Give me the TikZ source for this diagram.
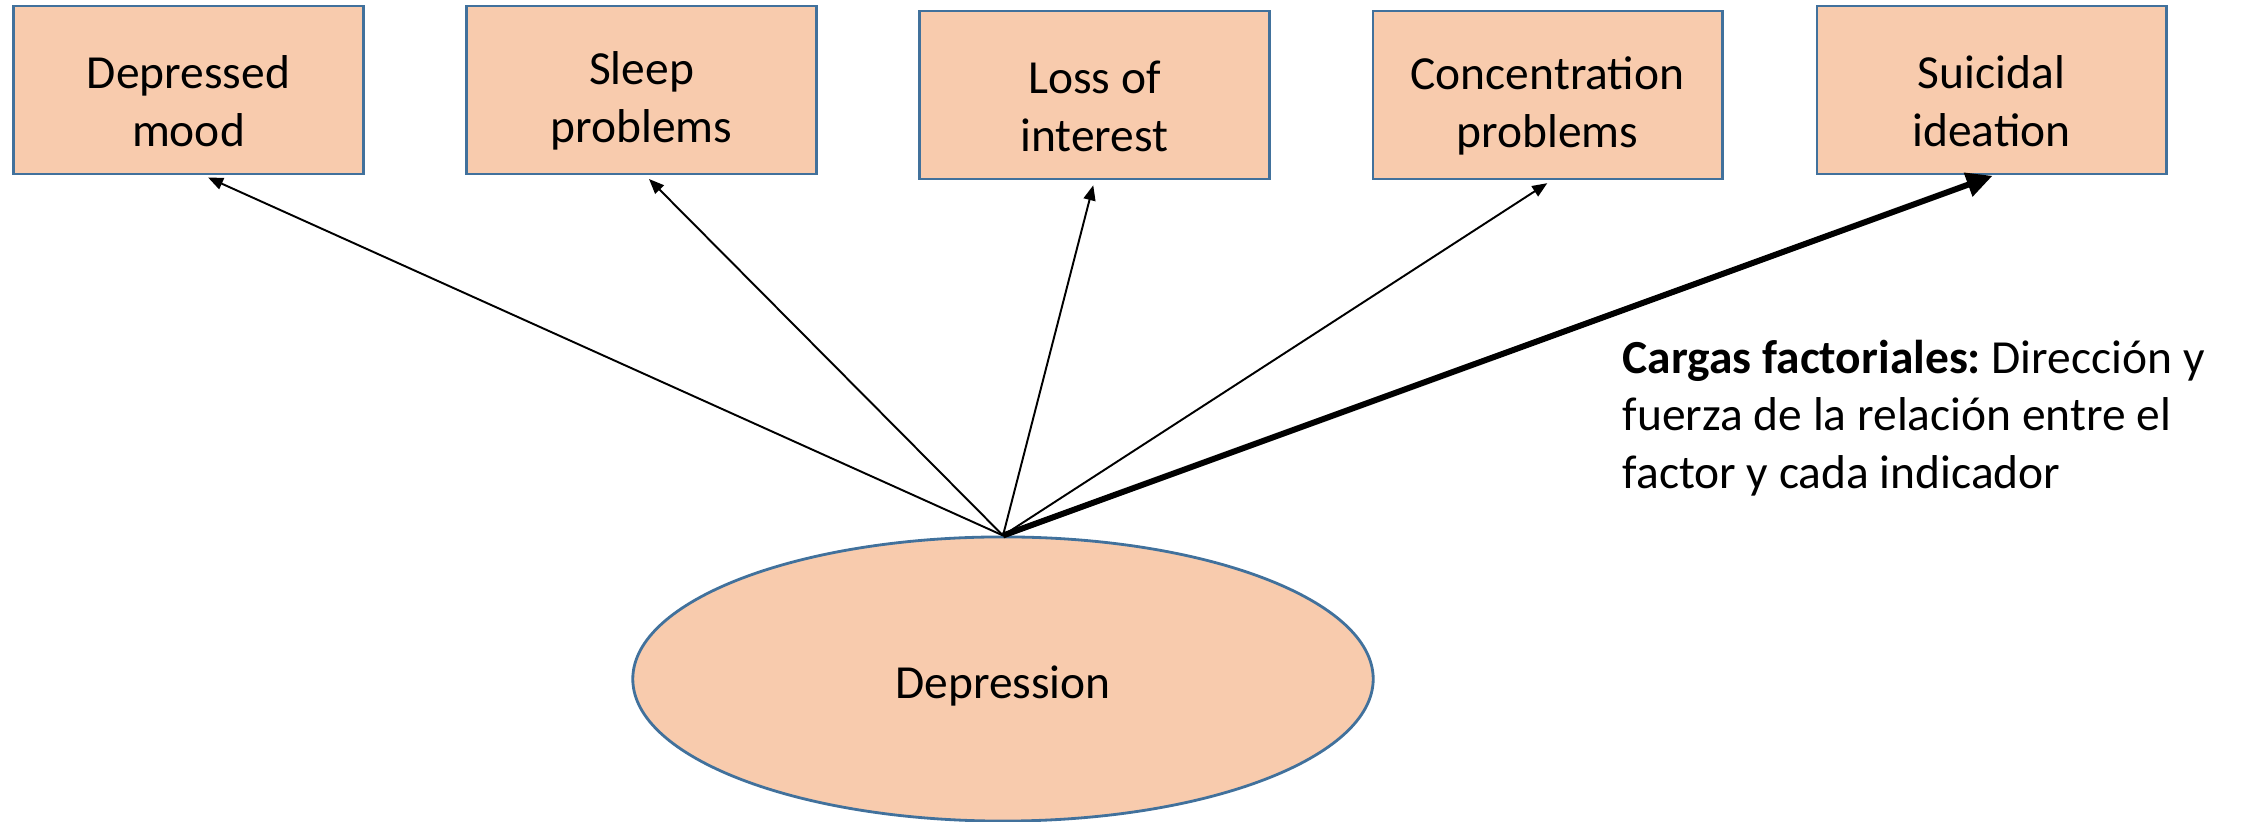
\documentclass[tikz,border=0pt]{standalone}
\usepackage{fontspec}
\usepackage{xcolor}
\usepackage{tikz}
\usetikzlibrary{arrows.meta, shapes.geometric}
\setmainfont{Carlito}
\definecolor{boxfill}{HTML}{F8CBAD}
\definecolor{boxline}{HTML}{41719C}
\lineskiplimit=-10pt
\newcommand{\lift}{\rule{0pt}{0.55cm}}
\tikzset{
	item/.style={rectangle, minimum width=3.49cm, minimum height=1.68cm, fill=boxfill, draw=boxline, line width=0.8pt, align=center, font=\fontsize{13.5}{16.4}\selectfont},
	factor/.style={ellipse, minimum width=7.4cm, minimum height=2.84cm, fill=boxfill, draw=boxline, line width=0.8pt, text height=0.5cm, text depth=0.12cm, font=\fontsize{13.5}{16.4}\selectfont},
	load/.style={line width=0.55pt, -{Triangle[length=0.15cm, width=0.12cm]}, shorten >=0.05cm},
	loadstrong/.style={line width=1.7pt, -{Triangle[length=0.26cm, width=0.24cm]}, shorten >=0.01cm}
}

\begin{document}
\begin{tikzpicture}[x=0.01cm, y=-0.01cm]
	\useasboundingbox (0,0) rectangle (2241,822);
	\node[item] at (188.5 ,90)(mood){\lift Depressed\\mood};
	\node[item] at (641.5 ,90)(sleep){\lift Sleep\\problems};
	\node[item] at (1094.5,95)(interest){\lift Loss of\\interest};
	\node[item] at (1547.5,95)(concentration){\lift Concentration\\problems};
	\node[item] at (1991.5,90)(suicidal){\lift Suicidal\\ideation};
	\node[factor] at (1003,679)(depression){Depression};
	\draw[load](depression.north) -- ([xshift=0.15cm]mood.south);
	\draw[load](depression.north) -- ([xshift=0.04cm]sleep.south);
	\draw[load](depression.north) -- (interest.south);
	\draw[load](depression.north) -- ([xshift=0.04cm]concentration.south);
	\draw[loadstrong](depression.north) -- ([xshift=0.02cm]suicidal.south);
	\node[anchor=west, inner sep=0pt, align=left, font=\fontsize{13.5}{16.4}\selectfont] at (1622,418)(loadings){\textbf{Cargas factoriales:}\ Dirección y\\fuerza de la relación entre el\\factor y cada indicador};
\end{tikzpicture}
\end{document}
